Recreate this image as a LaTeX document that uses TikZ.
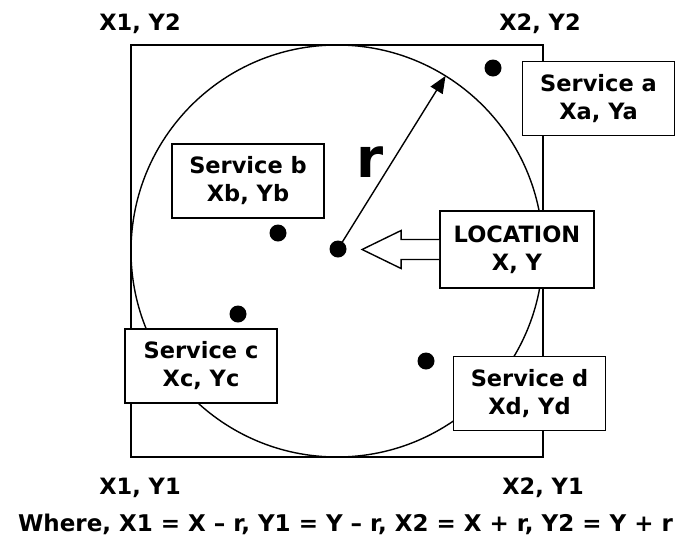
\documentclass[tikz,border=0pt]{standalone}
\usepackage{fontspec}
\setmainfont{DejaVu Sans}
\usepackage{tikz}
\usetikzlibrary{arrows.meta, calc}

\begin{document}
\begin{tikzpicture}[x=1pt, y=-1pt,
    service/.style={rectangle, draw, line width=1.8pt, fill=white, minimum width=152pt, minimum height=74pt, inner sep=0pt, align=center, font=\fontsize{22.5}{28}\selectfont\bfseries},
    corner/.style={anchor=base, inner sep=0pt, font=\fontsize{22.5}{28}\selectfont\bfseries},
    spot/.style={circle, fill=black, minimum size=17pt, inner sep=0pt},
    radial/.style={line width=1.4pt, -{Triangle[length=17pt, width=14pt]}}
]
    \useasboundingbox (0,0) rectangle (683,539);

    % search area
    \draw[line width=1.3pt] (131,45) rectangle (543,457);
    \coordinate (centre) at (337,251);
    \draw[line width=1.4pt] (centre) circle[radius=206];

    % radius
    \node[spot] (here) at (338,249) {};
    \coordinate (rim) at ($(centre)+(-58.2:206)$);
    \draw[radial] (here.center) -- (rim);
    \node[inner sep=0pt, font=\fontsize{55}{55}\selectfont\bfseries] (rlabel) at (370,162) {r};

    % services
    \node[spot] (dotA) at (493,68) {};
    \node[spot] (dotB) at (278,233) {};
    \node[spot] (dotC) at (238,314) {};
    \node[spot] (dotD) at (426,361) {};

    \node[service] (svcA) at (598.5,98.5) {Service a\\Xa, Ya};
    \node[service] (svcB) at (248,181) {Service b\\Xb, Yb};
    \node[service] (svcC) at (201,366) {Service c\\Xc, Yc};
    \node[service] (svcD) at (529.5,393.5) {Service d\\Xd, Yd};
    \node[service, minimum width=154pt, minimum height=77pt] (loc) at (517,249.5) {LOCATION\\X, Y};

    % block arrow into the location
    \draw[line width=1.4pt, fill=white, line join=miter]
        ($(loc.west)+(0,-10)$) -- ($(loc.west)+(-38,-10)$) -- ($(loc.west)+(-38,-19)$)
        -- ($(loc.west)+(-77,0)$)
        -- ($(loc.west)+(-38,19)$) -- ($(loc.west)+(-38,10)$) -- ($(loc.west)+(0,10)$);

    % corners
    \node[corner] (tl) at (140,30) {X1, Y2};
    \node[corner] (tr) at (540,30) {X2, Y2};
    \node[corner] (bl) at (140,494) {X1, Y1};
    \node[corner] (br) at (543,494) {X2, Y1};

    \node[corner, font=\fontsize{23}{28}\selectfont\bfseries] (note) at (345.5,531) {Where, X1 = X – r, Y1 = Y – r, X2 = X + r, Y2 = Y + r};
\end{tikzpicture}
\end{document}
